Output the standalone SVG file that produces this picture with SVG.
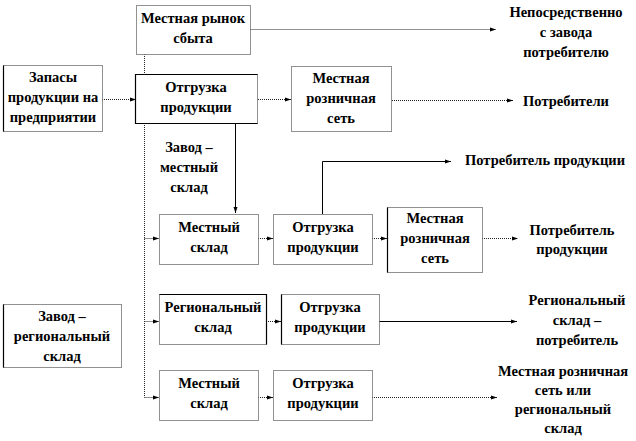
<svg xmlns="http://www.w3.org/2000/svg" width="636" height="441" viewBox="0 0 636 441">
<style>
.bx{fill:#fff;stroke:#222;stroke-width:1;stroke-dasharray:1 1}
.sd{stroke:#000;stroke-width:1.2;fill:none}
.dc{stroke:#222;stroke-width:1;stroke-dasharray:1 1;fill:none}
.sc{stroke:#000;stroke-width:1;fill:none}
text{font-weight:bold;font-size:14.5px;fill:#000;text-anchor:middle}
</style>
<defs>
<marker id="ah" viewBox="0 0 6 6" refX="6" refY="3" markerWidth="6" markerHeight="6" markerUnits="userSpaceOnUse" orient="auto">
<path d="M0,1 L6,3 L0,5 Z" fill="#000"/>
</marker>
</defs>
<g id="connectors">
<path class="dc" d="M250.5,29.5 H496" marker-end="url(#ah)"/>
<path class="dc" d="M102,99.5 H136" marker-end="url(#ah)"/>
<path class="dc" d="M258,99.5 H291" marker-end="url(#ah)"/>
<path class="dc" d="M392,100.5 H513" marker-end="url(#ah)"/>
<path class="dc" d="M144.5,54 V74"/>
<path class="dc" d="M144.5,123 V397.5"/>
<path class="sc" d="M235.5,123 V213" marker-end="url(#ah)"/>
<path class="sc" d="M322.5,214 V161.5 H451" marker-end="url(#ah)"/>
<path class="dc" d="M144.5,238.5 H159" marker-end="url(#ah)"/>
<path class="dc" d="M144.5,321.5 H159" marker-end="url(#ah)"/>
<path class="dc" d="M144.5,397.5 H159" marker-end="url(#ah)"/>
<path class="dc" d="M258,238.5 H273" marker-end="url(#ah)"/>
<path class="dc" d="M372,238.5 H387" marker-end="url(#ah)"/>
<path class="dc" d="M482,238.5 H518" marker-end="url(#ah)"/>
<path class="dc" d="M266,321.5 H281" marker-end="url(#ah)"/>
<path class="sc" d="M379,321.5 H517" marker-end="url(#ah)"/>
<path class="dc" d="M258,397.5 H273" marker-end="url(#ah)"/>
<path class="dc" d="M372,397.5 H497" marker-end="url(#ah)"/>
</g>
<g font-family="Liberation Serif, DejaVu Serif, Times New Roman, serif">
<g id="n-market">
<rect class="bx" x="136.5" y="5.5" width="114" height="49"/>
<text x="193" y="23">Местная рынок</text>
<text x="193" y="43">сбыта</text>
</g>
<g id="n-stock">
<rect class="bx" x="3.5" y="65.5" width="99" height="66"/>
<path class="sd" d="M3.5,65.5 V131.5"/>
<text x="53" y="82">Запасы</text>
<text x="53" y="102">продукции на</text>
<text x="53" y="122">предприятии</text>
</g>
<g id="n-ship1">
<rect class="bx" x="135.5" y="74.5" width="122" height="49"/>
<path class="sd" d="M257.5,74.5 H135.5 V123.5 H257.5"/>
<text x="196" y="92">Отгрузка</text>
<text x="196" y="112">продукции</text>
</g>
<g id="n-retail1">
<rect class="bx" x="291.5" y="66.5" width="100" height="65"/>
<text x="341" y="83">Местная</text>
<text x="341" y="103">розничная</text>
<text x="341" y="123">сеть</text>
</g>
<g id="t-direct">
<text x="566" y="17">Непосредственно</text>
<text x="566" y="37">с завода</text>
<text x="566" y="57">потребителю</text>
</g>
<text x="566" y="106">Потребители</text>
<g id="t-plant-local">
<text x="189" y="152">Завод –</text>
<text x="189" y="172">местный</text>
<text x="189" y="192">склад</text>
</g>
<text x="545" y="165">Потребитель продукции</text>
<g id="n-wh1">
<rect class="bx" x="159.5" y="214.5" width="99" height="50"/>
<text x="209" y="232">Местный</text>
<text x="209" y="252">склад</text>
</g>
<g id="n-ship2">
<rect class="bx" x="273.5" y="214.5" width="99" height="50"/>
<text x="323" y="232">Отгрузка</text>
<text x="323" y="252">продукции</text>
</g>
<g id="n-retail2">
<rect class="bx" x="387.5" y="207.5" width="95" height="65"/>
<path class="sd" d="M387.5,207.5 V272.5"/>
<text x="435" y="223">Местная</text>
<text x="435" y="243">розничная</text>
<text x="435" y="263">сеть</text>
</g>
<g id="t-consumer2">
<text x="572" y="235">Потребитель</text>
<text x="572" y="254">продукции</text>
</g>
<g id="n-plant-reg">
<rect class="bx" x="3.5" y="304.5" width="118" height="63"/>
<path class="sd" d="M3.5,304.5 V367.5"/>
<text x="62" y="321">Завод –</text>
<text x="62" y="341">региональный</text>
<text x="62" y="361">склад</text>
</g>
<g id="n-regwh">
<rect class="bx" x="159.5" y="294.5" width="107" height="50"/>
<path class="sd" d="M159.5,294.5 H266.5 V344.5"/>
<text x="213" y="312">Региональный</text>
<text x="213" y="332">склад</text>
</g>
<g id="n-ship3">
<rect class="bx" x="281.5" y="294.5" width="98" height="50"/>
<path class="sd" d="M281.5,294.5 V344.5"/>
<text x="330" y="312">Отгрузка</text>
<text x="330" y="332">продукции</text>
</g>
<g id="t-regcons">
<text x="577" y="305">Региональный</text>
<text x="577" y="325">склад –</text>
<text x="577" y="345">потребитель</text>
</g>
<g id="n-wh2">
<rect class="bx" x="159.5" y="370.5" width="99" height="50"/>
<text x="209" y="388">Местный</text>
<text x="209" y="408">склад</text>
</g>
<g id="n-ship4">
<rect class="bx" x="273.5" y="370.5" width="99" height="50"/>
<text x="323" y="388">Отгрузка</text>
<text x="323" y="408">продукции</text>
</g>
<g id="t-last">
<text x="563" y="376">Местная розничная</text>
<text x="563" y="395">сеть или</text>
<text x="563" y="414">региональный</text>
<text x="563" y="433">склад</text>
</g>
</g>
</svg>
